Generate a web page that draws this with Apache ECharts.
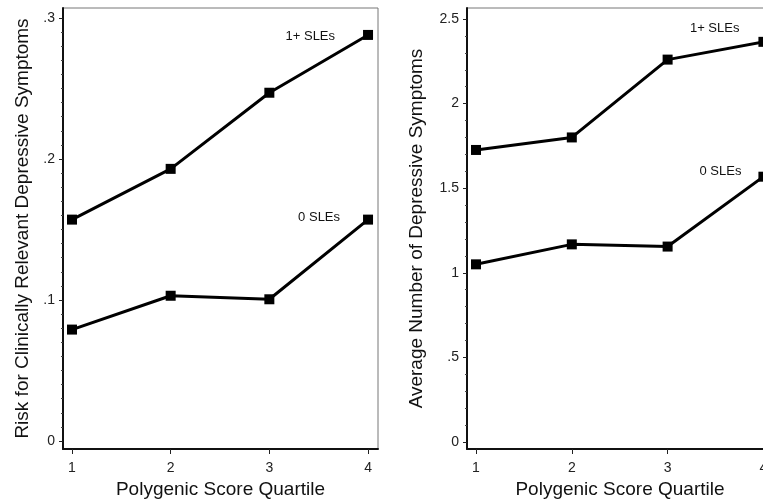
<!DOCTYPE html>
<html>
<head>
<meta charset="utf-8">
<script src="https://cdn.jsdelivr.net/npm/echarts@6/dist/echarts.min.js"></script>
<style>
html,body{margin:0;padding:0;background:#fff;}
#c{width:763px;height:500px;}
</style>
</head>
<body>
<div id="c"></div>
<script>
// ---- data ----
const quartiles = [1, 2, 3, 4];
const xTicks = [1, 2, 3, 4];

const riskHigh = [0.157, 0.193, 0.247, 0.288];   // 1+ SLEs
const riskZero = [0.079, 0.103, 0.1005, 0.157];   // 0 SLEs
const riskTicks = [0, 0.1, 0.2, 0.3];
const riskMinor = [0.01,0.02,0.03,0.04,0.05,0.06,0.07,0.08,0.09,0.11,0.12,0.13,0.14,0.15,0.16,0.17,0.18,0.19,0.21,0.22,0.23,0.24,0.25,0.26,0.27,0.28,0.29];

const avgHigh = [1.726, 1.80, 2.26, 2.365];      // 1+ SLEs
const avgZero = [1.05, 1.168, 1.155, 1.568];     // 0 SLEs
const avgTicks = [0, 0.5, 1, 1.5, 2, 2.5];
const avgMinor = [0.1,0.2,0.3,0.4,0.6,0.7,0.8,0.9,1.1,1.2,1.3,1.4,1.6,1.7,1.8,1.9,2.1,2.2,2.3,2.4];

const seriesNames = ['1+ SLEs', '0 SLEs'];
const xTitle = 'Polygenic Score Quartile';
const leftTitle = 'Risk for Clinically Relevant Depressive Symptoms';
const rightTitle = 'Average Number of Depressive Symptoms';

// ---- helpers ----
const FONT = 'Liberation Sans, Arial, sans-serif';
function fmt(v){ if (v === 0) return '0'; return String(v).replace(/^0\./, '.'); }

function buildData(vals, labelCfg){
  return quartiles.map((q, i) => {
    if (i === quartiles.length - 1 && labelCfg) {
      return { value: [q, vals[i]], label: labelCfg };
    }
    return [q, vals[i]];
  });
}
function lab(text, dist, dy){
  return { show: true, formatter: text, position: 'left', distance: dist, offset: [0, dy],
           color: '#111', fontSize: 13, fontFamily: FONT };
}
function lineSeries(name, xi, yi, vals, labelCfg){
  return {
    type: 'line', name: name, xAxisIndex: xi, yAxisIndex: yi,
    data: buildData(vals, labelCfg),
    symbol: 'rect', symbolSize: 10,
    lineStyle: { color: '#000', width: 3 },
    itemStyle: { color: '#000' },
    label: { show: false },
    emphasis: { disabled: true },
    animation: false, clip: false, z: 5
  };
}
function xAxis(gi, min, max){
  return {
    type: 'value', gridIndex: gi, min: min, max: max, position: 'bottom',
    name: xTitle, nameLocation: 'middle', nameGap: 27,
    nameTextStyle: { fontSize: 19, color: '#111', fontFamily: FONT },
    axisLine: { show: true, onZero: false, lineStyle: { color: '#111', width: 2 } },
    axisTick: { show: true, customValues: xTicks, length: 5, lineStyle: { color: '#222', width: 1 } },
    axisLabel: { show: true, customValues: xTicks, margin: 12, fontSize: 14, color: '#222', fontFamily: FONT },
    splitLine: { show: false }
  };
}
function yAxis(gi, min, max, ticks, title, gap){
  return {
    type: 'value', gridIndex: gi, min: min, max: max, position: 'left',
    name: title, nameLocation: 'middle', nameGap: gap, nameRotate: 90,
    nameTextStyle: { fontSize: 19, color: '#111', fontFamily: FONT },
    axisLine: { show: true, onZero: false, lineStyle: { color: '#111', width: 2 } },
    axisTick: { show: true, customValues: ticks, length: 4, lineStyle: { color: '#222', width: 1 } },
    axisLabel: { show: true, customValues: ticks, margin: 8, fontSize: 14, color: '#222', fontFamily: FONT,
                 formatter: fmt },
    splitLine: { show: false }
  };
}
function yMinor(gi, min, max, ticks){
  return {
    type: 'value', gridIndex: gi, min: min, max: max, position: 'left',
    axisLine: { show: false, onZero: false },
    axisTick: { show: true, customValues: ticks, length: 2, lineStyle: { color: '#444', width: 1 } },
    axisLabel: { show: false },
    splitLine: { show: false }
  };
}

const chart = echarts.init(document.getElementById('c'), null, { renderer: 'canvas' });
chart.setOption({
  backgroundColor: '#fff',
  animation: false,
  grid: [
    { left: 63, top: 8, width: 315, height: 441, show: true, borderColor: '#777', borderWidth: 1,
      containLabel: false, outerBoundsMode: 'none' },
    { left: 467, top: 8, width: 306, height: 441, show: true, borderColor: '#777', borderWidth: 1,
      containLabel: false, outerBoundsMode: 'none' }
  ],
  xAxis: [ xAxis(0, 0.909, 4.101), xAxis(1, 0.906, 4.1) ],
  yAxis: [
    yAxis(0, -0.0057, 0.3071, riskTicks, leftTitle, 31),
    yAxis(1, -0.0414, 2.565, avgTicks, rightTitle, 41),
    yMinor(0, -0.0057, 0.3071, riskMinor),
    yMinor(1, -0.0414, 2.565, avgMinor)
  ],
  series: [
    lineSeries(seriesNames[0], 0, 0, riskHigh, lab(seriesNames[0], 28, 1)),
    lineSeries(seriesNames[1], 0, 0, riskZero, lab(seriesNames[1], 23, -2)),
    lineSeries(seriesNames[0], 1, 1, avgHigh, lab(seriesNames[0], 19, -13)),
    lineSeries(seriesNames[1], 1, 1, avgZero, lab(seriesNames[1], 17, -5))
  ]
});
</script>
</body>
</html>
